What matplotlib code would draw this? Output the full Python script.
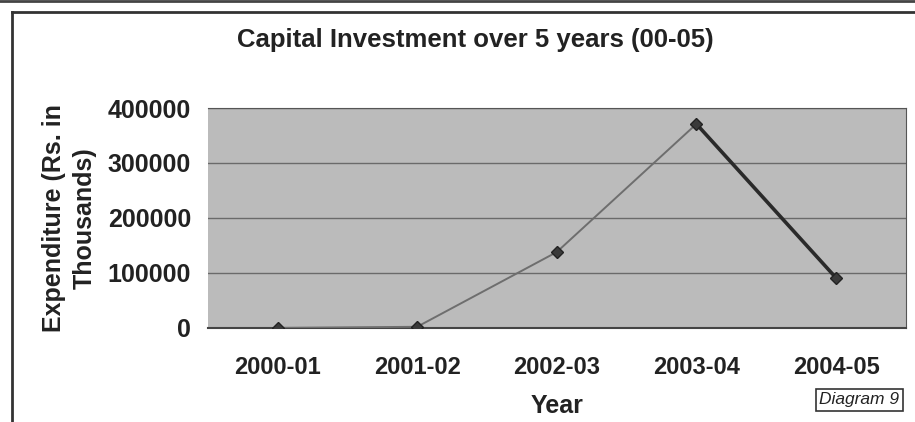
import matplotlib
matplotlib.use('Agg')
import matplotlib.pyplot as plt

# data
years = ['2000-01', '2001-02', '2002-03', '2003-04', '2004-05']
expenditure = [0, 2000, 138000, 371000, 91000]

plt.rcParams['font.family'] = ['Liberation Sans', 'DejaVu Sans']
plt.rcParams['font.weight'] = 'bold'

fig = plt.figure(figsize=(9.15, 4.22), dpi=100)
ax = fig.add_axes([0.227, 0.223, 0.763, 0.521])

x = list(range(len(years)))
# first part in light gray, last segment darker like the scan
ax.plot(x[:4], expenditure[:4], color='#6e6e6e', lw=1.4, zorder=3)
ax.plot(x[3:], expenditure[3:], color='#2a2a2a', lw=2.6, zorder=3)
ax.plot(x, expenditure, ls='none', marker='D', ms=6, color='#3a3a3a',
        markeredgecolor='#222222', zorder=4)

ax.set_facecolor('#bbbbbb')
ax.set_xlim(-0.5, 4.5)
ax.set_ylim(0, 400000)
ax.set_yticks([0, 100000, 200000, 300000, 400000])
ax.set_yticklabels(['0', '100000', '200000', '300000', '400000'])
ax.set_xticks(x)
ax.set_xticklabels(years)
ax.yaxis.grid(True, color='#6a6a6a', lw=1.0)
ax.set_axisbelow(True)
ax.tick_params(axis='both', labelsize=18, length=0, colors='#222222')
ax.tick_params(axis='x', labelsize=17, pad=20)
ax.tick_params(axis='y', pad=12)
for s in ['top', 'right']:
    ax.spines[s].set_color('#555555')
ax.spines['left'].set_visible(False)
ax.spines['bottom'].set_color('#444444')
ax.spines['bottom'].set_linewidth(1.5)

ax.set_xlabel('Year', fontsize=18, fontweight='bold', color='#222222', labelpad=11)
ax.set_ylabel('Expenditure (Rs. in\nThousands)', fontsize=18, fontweight='bold',
              color='#222222', labelpad=8, linespacing=1.35)
fig.text(0.52, 0.905, 'Capital Investment over 5 years (00-05)', ha='center',
         va='center', fontsize=18.5, fontweight='bold', color='#222222')

# scanned frame lines
fig.add_artist(plt.Line2D([0, 1], [0.997, 0.997], transform=fig.transFigure,
                          color='#444444', lw=2))
fig.add_artist(plt.Line2D([0.013, 1], [0.972, 0.972], transform=fig.transFigure,
                          color='#333333', lw=2))
fig.add_artist(plt.Line2D([0.013, 0.013], [0, 0.972], transform=fig.transFigure,
                          color='#333333', lw=2))

fig.text(0.939, 0.053, 'Diagram 9', ha='center', va='center', fontsize=12.5,
         fontstyle='italic', fontweight='normal', color='#222222',
         bbox=dict(boxstyle='square,pad=0.2', fc='white', ec='#333333', lw=1.2))

fig.savefig('out.png', dpi=100)
